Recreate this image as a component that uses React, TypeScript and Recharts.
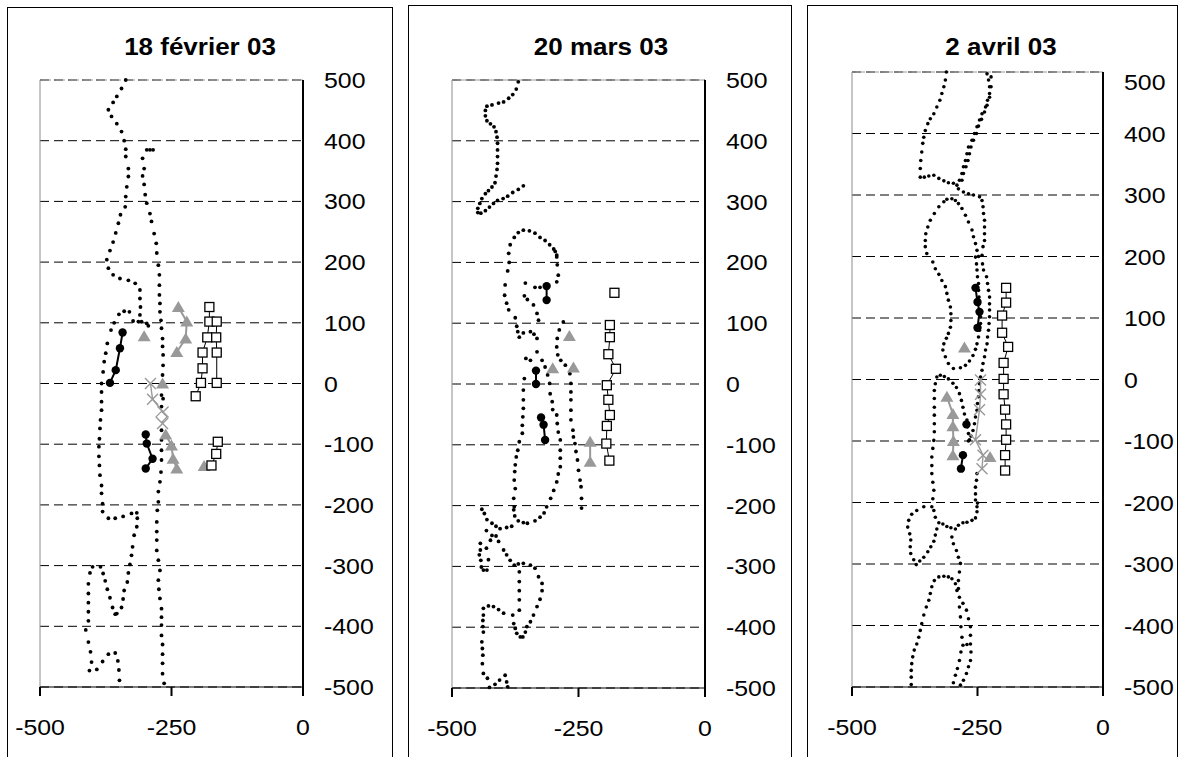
import React from 'react';
import { ScatterChart, Scatter, XAxis, YAxis, CartesianGrid, ReferenceLine } from 'recharts';

const FONT = '"Liberation Sans", Arial, Helvetica, sans-serif';

// axis ticks
const xTicks = [-500, -250, 0];
const yTicks = [-500, -400, -300, -200, -100, 0, 100, 200, 300, 400, 500];

// ---- 18 février 03 ----
const febTrack = [
  [-337, 500], [-345, 486], [-354, 473], [-361, 463], [-370, 451], [-364, 440], [-354, 428], [-345, 415], [-340, 400],
  [-337, 386], [-337, 374], [-332, 354], [-332, 341], [-335, 324], [-337, 308], [-338, 291], [-347, 278], [-351, 264],
  [-356, 248], [-361, 233], [-367, 219], [-373, 204], [-370, 190], [-361, 179], [-348, 173], [-332, 170], [-319, 165],
  [-310, 154], [-310, 140], [-309, 126], [-310, 113], [-307, 102], [-297, 99], [-294, 95], [-323, 103], [-313, 102],
  [-330, 118], [-340, 119], [-350, 114], [-359, 100], [-365, 88], [-372, 66], [-375, 50], [-378, 36], [-380, 19],
  [-383, 0], [-383, -14], [-383, -30], [-383, -44], [-385, -60], [-386, -74], [-387, -91], [-388, -104], [-388, -120],
  [-387, -135], [-386, -151], [-383, -168], [-383, -181], [-381, -198], [-381, -211], [-370, -222], [-357, -222],
  [-342, -219], [-326, -214], [-316, -213], [-315, -222], [-316, -236], [-321, -250], [-324, -269], [-326, -283],
  [-329, -298], [-332, -312], [-334, -327], [-340, -341], [-342, -355], [-345, -369], [-354, -379], [-357, -380],
  [-362, -369], [-367, -353], [-372, -339], [-376, -325], [-380, -313], [-385, -302], [-400, -302], [-405, -312],
  [-408, -330], [-408, -346], [-408, -361], [-408, -376], [-408, -391], [-413, -406], [-408, -426], [-404, -442],
  [-402, -459], [-406, -473], [-392, -471], [-381, -458], [-370, -446], [-357, -444], [-352, -457], [-350, -472],
  [-349, -489],
  [-297, 385], [-291, 385], [-285, 385], [-305, 371], [-302, 354], [-305, 342], [-302, 328], [-300, 311], [-297, 297],
  [-291, 280], [-288, 267], [-283, 247], [-279, 231], [-278, 215], [-275, 195], [-273, 179], [-273, 162], [-273, 146],
  [-272, 132], [-272, 118], [-270, 104], [-269, 91], [-267, 74], [-267, 61], [-266, 47], [-266, 30], [-267, 14],
  [-269, -19], [-266, -25], [-269, -38], [-269, -77], [-269, -93], [-269, -110], [-269, -126], [-270, -146],
  [-272, -162], [-275, -178], [-275, -195], [-277, -209], [-278, -228], [-278, -244], [-278, -258], [-278, -275],
  [-275, -291], [-272, -308], [-275, -324], [-274, -339], [-272, -354], [-269, -371], [-269, -385], [-269, -398],
  [-269, -415], [-267, -430], [-267, -446], [-267, -461], [-267, -478], [-264, -494],
];
const febCirclesA = [[-343, 84], [-348, 58], [-356, 22], [-367, 1]];
const febCirclesB = [[-299, -84], [-297, -99], [-286, -124], [-299, -140]];
const febTriA = [[-237, 126], [-221, 102], [-223, 74], [-240, 52]];
const febTriB = [[-261, -84], [-250, -102], [-247, -124], [-240, -140]];
const febTriSingle = [[-302, 78], [-267, 0], [-188, -136]];
const febCross = [[-290, 0], [-286, -26], [-266, -47], [-267, -66]];
const febDiamond = [[-269, -55]];
const febSqA = [[-178, 126], [-178, 102], [-182, 76], [-191, 51], [-191, 25], [-194, 1], [-204, -21]];
const febSqB = [[-164, 102], [-165, 76], [-164, 51], [-164, 1]];
const febSqC = [[-162, -96], [-165, -116], [-174, -135]];

// ---- 20 mars 03 ----
const marTrack = [
  [-369, 497], [-373, 485], [-380, 476], [-388, 470], [-398, 464], [-408, 462], [-421, 459], [-431, 457], [-434, 450],
  [-434, 441], [-431, 433], [-424, 428], [-417, 423], [-413, 415], [-411, 406], [-410, 396], [-410, 385], [-410, 374],
  [-410, 363], [-411, 353], [-413, 342], [-415, 331], [-421, 324], [-428, 318], [-434, 313], [-441, 305], [-445, 297],
  [-449, 289], [-449, 282], [-443, 281], [-434, 285], [-426, 291], [-418, 297], [-410, 302], [-399, 305], [-390, 309],
  [-380, 315], [-369, 320], [-359, 326],
  [-385, 229], [-377, 241], [-369, 249], [-359, 253], [-347, 252], [-336, 248], [-326, 241], [-316, 236], [-307, 229],
  [-299, 222], [-293, 212], [-388, 215], [-387, 200], [-390, 186], [-395, 163], [-396, 146], [-392, 133], [-388, 122],
  [-375, 109], [-372, 95], [-370, 86], [-367, 77], [-359, 84], [-345, 86], [-338, 82], [-332, 75], [-354, 42],
  [-345, 39], [-332, 53], [-357, 9], [-359, -10], [-359, -26], [-359, -40], [-360, -54], [-361, -68], [-361, -81],
  [-367, -95], [-370, -109], [-373, -120], [-375, -133], [-376, -144], [-377, -158], [-375, -172], [-378, -188],
  [-377, -202],
  [-355, 166], [-357, 145], [-351, 139], [-339, 130], [-332, 116], [-329, 105], [-336, 159], [-326, 159], [-296, 218],
  [-293, 209], [-292, 196], [-290, 179], [-293, 168],
  [-322, 39], [-316, 28], [-311, 15], [-307, 1], [-306, -16], [-302, -29], [-301, -42], [-293, -51], [-292, -65],
  [-290, -79], [-286, -92], [-286, -109], [-286, -122], [-286, -136], [-290, -148], [-293, -161], [-299, -175],
  [-305, -188], [-313, -202],
  [-280, 102], [-288, 89], [-292, 75], [-293, 61], [-291, 48], [-285, 39], [-276, 31], [-267, 17], [-265, 1],
  [-265, -13], [-265, -26], [-265, -43], [-265, -59], [-261, -76], [-260, -87], [-257, -98], [-255, -111], [-252, -125],
  [-250, -142], [-247, -158], [-245, -169], [-244, -188], [-244, -204],
  [-378, -207], [-376, -217], [-369, -225], [-359, -228], [-351, -229], [-336, -225], [-326, -219], [-318, -212],
  [-441, -206], [-436, -213], [-431, -223], [-421, -229], [-413, -234], [-405, -238], [-392, -236], [-382, -234],
  [-432, -241], [-421, -249], [-413, -250], [-408, -259], [-398, -273], [-392, -281], [-385, -290], [-377, -298],
  [-369, -296], [-359, -295], [-345, -298], [-336, -303], [-329, -317], [-322, -328], [-322, -340], [-326, -354],
  [-332, -366], [-339, -380], [-345, -391], [-352, -399], [-355, -408], [-360, -416], [-365, -416], [-372, -410],
  [-375, -402], [-378, -394], [-380, -380], [-367, -309], [-367, -325], [-367, -340], [-367, -355], [-367, -372],
  [-444, -262], [-444, -273], [-446, -281], [-443, -290], [-442, -301], [-438, -306], [-431, -306], [-428, -289],
  [-432, -270], [-424, -257],
  [-438, -369], [-428, -365], [-418, -366], [-408, -371], [-398, -377], [-438, -380], [-439, -389], [-439, -399],
  [-438, -408], [-441, -424], [-440, -435], [-439, -446], [-440, -460], [-438, -476], [-430, -484], [-426, -499],
  [-415, -494], [-406, -487], [-395, -479], [-392, -490], [-390, -498],
];
const marCirclesA = [[-313, 161], [-313, 138]];
const marCirclesB = [[-334, 22], [-334, 0]];
const marCirclesC = [[-324, -55], [-319, -67], [-316, -92]];
const marTriSingle = [[-268, 79], [-301, 26], [-260, 27]];
const marTriA = [[-227, -95], [-227, -128]];
const marSqSingle = [[-179, 150]];
const marSqA = [[-188, 97], [-188, 77], [-191, 49], [-176, 25], [-194, -2], [-191, -26], [-188, -51], [-194, -69], [-195, -98], [-189, -126]];

// ---- 2 avril 03 ----
const avrTrack = [
  [-312, 500], [-314, 487], [-317, 476], [-321, 465], [-325, 454], [-331, 443], [-337, 432], [-344, 424], [-349, 416],
  [-354, 405], [-357, 394], [-359, 384], [-361, 370], [-363, 356], [-364, 343], [-364, 329], [-356, 329], [-347, 331],
  [-337, 332], [-327, 327], [-317, 323], [-308, 320], [-298, 319], [-288, 310], [-278, 305], [-268, 302], [-258, 300],
  [-246, 297], [-241, 291], [-239, 281], [-238, 270], [-236, 259], [-236, 248], [-236, 237], [-236, 226], [-239, 216],
  [-241, 202],
  [-231, 497], [-228, 487], [-226, 476], [-226, 465], [-230, 454], [-234, 443], [-241, 432], [-246, 422], [-251, 411],
  [-256, 400], [-261, 389], [-268, 378], [-271, 367], [-274, 356], [-278, 346], [-281, 335], [-286, 324], [-291, 316],
  [-223, 492], [-223, 476], [-226, 459], [-231, 446], [-236, 435], [-242, 423], [-248, 412], [-252, 400], [-258, 389],
  [-263, 378], [-266, 367], [-269, 356], [-273, 346], [-278, 335], [-281, 324],
  [-301, 294], [-311, 293], [-317, 289], [-327, 281], [-336, 270], [-344, 259], [-349, 248], [-353, 237], [-354, 226],
  [-354, 216], [-351, 205], [-294, 291], [-288, 286], [-281, 278], [-274, 267], [-268, 256], [-261, 243], [-258, 232],
  [-254, 221], [-251, 210], [-248, 200],
  [-339, 191], [-334, 180], [-327, 171], [-321, 161], [-314, 151], [-311, 140], [-308, 129], [-304, 118], [-303, 107],
  [-303, 96], [-304, 85], [-308, 75], [-312, 67], [-317, 58], [-319, 48], [-314, 37], [-308, 26], [-298, 18], [-284, 19],
  [-274, 23], [-266, 30], [-259, 39], [-254, 49], [-251, 58], [-248, 69], [-246, 80], [-244, 91], [-244, 102],
  [-246, 113], [-246, 123], [-247, 134], [-248, 145], [-248, 156], [-250, 167], [-251, 178], [-252, 188], [-254, 199],
  [-240, 188], [-238, 178], [-232, 167], [-230, 156], [-228, 145], [-226, 134], [-226, 123], [-226, 113], [-226, 102],
  [-227, 91], [-228, 80], [-230, 69], [-231, 58], [-234, 48], [-236, 37], [-239, 26], [-241, 15], [-244, 4], [-246, -7],
  [-247, -18], [-248, -28], [-250, -39], [-251, -50], [-254, -61], [-256, -72], [-259, -83], [-263, -92], [-268, -100],
  [-324, 7], [-331, 4], [-334, -7], [-336, -18], [-336, -31], [-336, -45], [-336, -58], [-336, -72], [-336, -85],
  [-337, -99], [-339, -112], [-341, -126], [-341, -140], [-341, -153], [-339, -167], [-337, -180], [-339, -194],
  [-341, -207], [-316, 5], [-308, 1], [-299, -6], [-292, -13], [-286, -23], [-282, -34], [-279, -45], [-276, -56],
  [-271, -66], [-270, -77], [-268, -88], [-266, -98],
  [-251, -153], [-252, -164], [-254, -175], [-254, -186], [-254, -196], [-251, -207],
  [-357, -207], [-371, -213], [-381, -219], [-387, -229], [-389, -240], [-385, -251], [-383, -261], [-384, -272],
  [-383, -283], [-377, -293], [-372, -301], [-365, -295], [-357, -289], [-349, -280], [-343, -272], [-337, -263],
  [-334, -253], [-331, -243], [-327, -233], [-334, -224], [-337, -213],
  [-319, -235], [-311, -239], [-303, -241], [-294, -243], [-288, -237], [-279, -233], [-271, -232], [-261, -229],
  [-254, -225], [-251, -215], [-250, -201],
  [-301, -256], [-298, -267], [-292, -278], [-288, -289], [-284, -299], [-286, -313], [-288, -327],
  [-317, -320], [-327, -321], [-336, -327], [-341, -337], [-344, -348], [-347, -359], [-352, -370], [-357, -383],
  [-361, -397], [-364, -408], [-367, -419], [-371, -430], [-376, -440], [-379, -451], [-381, -462], [-382, -473],
  [-382, -484], [-382, -496],
  [-308, -321], [-301, -324], [-294, -332], [-291, -343], [-286, -354], [-279, -364], [-272, -375], [-268, -389],
  [-264, -402], [-264, -416], [-264, -430], [-263, -443], [-264, -457], [-268, -467], [-272, -478], [-278, -489],
  [-284, -497],
  [-288, -340], [-286, -370], [-284, -386], [-283, -402], [-281, -419], [-279, -432], [-271, -431], [-283, -443],
  [-286, -457], [-290, -470], [-294, -481], [-298, -493],
];
const avrCirclesA = [[-254, 149], [-250, 126], [-246, 110], [-250, 84]];
const avrCircleSingle = [[-272, -73]];
const avrCirclesB = [[-279, -123], [-283, -145]];
const avrTriSingle = [[-276, 52], [-225, -126]];
const avrTriA = [[-311, -28], [-299, -56], [-299, -76], [-298, -100], [-299, -123]];
const avrCross = [[-244, -1], [-244, -24], [-246, -49], [-254, -98], [-239, -123], [-241, -145]];
const avrSqA = [[-193, 149], [-193, 125], [-201, 104], [-201, 76], [-189, 53], [-198, 27], [-198, 1], [-198, -24], [-195, -49], [-193, -73], [-193, -98], [-195, -123], [-195, -148]];

const pts = (a: number[][]) => a.map(([x, y]) => ({ x, y }));

// marker shapes
const dotShape = (r: number) => (p: any) => <circle cx={p.cx} cy={p.cy} r={r} fill="#000" />;
const circleShape = (p: any) => <circle cx={p.cx} cy={p.cy} r={4.2} fill="#000" />;
const triShape = (p: any) => (
  <path d={`M${p.cx},${p.cy - 6}L${p.cx + 6.5},${p.cy + 5}L${p.cx - 6.5},${p.cy + 5}Z`} fill="#999999" />
);
const squareShape = (p: any) => (
  <rect x={p.cx - 4.5} y={p.cy - 4.5} width={9} height={9} fill="#fff" stroke="#000" strokeWidth={1.3} />
);
const crossShape = (p: any) => (
  <g stroke="#999999" strokeWidth={1.4}>
    <line x1={p.cx - 5.5} y1={p.cy - 5.5} x2={p.cx + 5.5} y2={p.cy + 5.5} />
    <line x1={p.cx - 5.5} y1={p.cy + 5.5} x2={p.cx + 5.5} y2={p.cy - 5.5} />
  </g>
);
const diamondShape = (p: any) => (
  <path d={`M${p.cx},${p.cy - 5.5}L${p.cx + 5.5},${p.cy}L${p.cx},${p.cy + 5.5}L${p.cx - 5.5},${p.cy}Z`} fill="#fff" stroke="#999999" strokeWidth={1.3} />
);

// axis tick renderers (text is slightly stretched horizontally, like the original export)
const XTick = (p: any) => (
  <g>
    <rect x={p.x - 1} y={p.y} width={2} height={9} fill="#000" />
    <text
      transform={`translate(${p.x},${p.y + 48}) scale(1.13,1)`}
      textAnchor="middle" fontSize={22} fontFamily={FONT} fill="#000"
    >{p.payload.value}</text>
  </g>
);
const YTick = (p: any) => (
  <text
    transform={`translate(${p.x + 21},${p.y + 8 + (p.shiftTop && p.payload.value === 500 ? 10 : 0)}) scale(1.13,1)`}
    textAnchor="start" fontSize={22} fontFamily={FONT} fill="#000"
  >{p.payload.value}</text>
);

type Series = { data: number[][]; shape: any; line?: any };

const blackLine = { stroke: '#000', strokeWidth: 2 };
const grayLine = { stroke: '#999999', strokeWidth: 2 };
const thinLine = { stroke: '#000', strokeWidth: 1 };

function Panel({
  title, titleX, boxL, boxR, boxT, plot, dotR, track, series, shiftTop = false,
}: {
  title: string; titleX: number; boxL: number; boxR: number; boxT: number;
  plot: { L: number; R: number; T: number; B: number };
  dotR: number; track: number[][]; series: Series[]; shiftTop?: boolean;
}) {
  const ML = 35, MT = 20, MR = 10, YW = 70, XH = 75;
  const w = plot.R - plot.L + ML + MR + YW;
  const h = plot.B - plot.T + MT + XH;
  return (
    <>
      <div style={{
        position: 'absolute', left: boxL, top: boxT, width: boxR - boxL, height: 800,
        border: '1px solid #000', boxSizing: 'border-box',
      }} />
      <div style={{
        position: 'absolute', left: titleX - 150, top: 34, width: 300, textAlign: 'center',
        fontFamily: FONT, fontWeight: 'bold', fontSize: 23, lineHeight: '26px',
        transform: 'scaleX(1.13)', transformOrigin: 'center',
      }}>{title}</div>
      <div style={{ position: 'absolute', left: plot.L - ML, top: plot.T - MT }}>
        <ScatterChart width={w} height={h} margin={{ top: MT, left: ML, right: MR, bottom: 0 }}>
          <CartesianGrid vertical={false} stroke="#000" strokeDasharray="9 5" />
          <XAxis
            type="number" dataKey="x" domain={[-500, 0]} ticks={xTicks} interval={0}
            height={XH} axisLine={false} tickLine={false} tickSize={0} tickMargin={0} tick={<XTick />}
          />
          <YAxis
            type="number" dataKey="y" orientation="right" domain={[-500, 500]} ticks={yTicks} interval={0}
            width={YW} axisLine={false} tickLine={false} tickSize={0} tickMargin={0}
            tick={<YTick shiftTop={shiftTop} />}
          />
          <ReferenceLine x={-500} stroke="#8c8c8c" ifOverflow="visible" />
          <ReferenceLine y={500} stroke="#9a9a9a" strokeDasharray="9 5" ifOverflow="visible" />
          <ReferenceLine y={-500} stroke="#000" strokeWidth={1.2} ifOverflow="visible" />
          <Scatter data={pts(track)} shape={dotShape(dotR)} isAnimationActive={false} />
          {series.map((s, i) => (
            <Scatter
              key={i}
              data={pts(s.data)}
              shape={s.shape}
              line={s.line ? s.line : false}
              lineType="joint"
              isAnimationActive={false}
            />
          ))}
        </ScatterChart>
      </div>
      {/* right-hand value axis line */}
      <div style={{
        position: 'absolute', left: plot.R - 1, top: plot.T, width: 0, height: plot.B - plot.T,
        borderLeft: '2px solid #000',
      }} />
    </>
  );
}

export default function App() {
  return (
    <div style={{
      position: 'absolute', left: 0, top: 0, width: 1184, height: 757, overflow: 'hidden',
      background: '#fff', fontFamily: FONT,
    }}>
      <Panel
        title="18 février 03" titleX={200} boxL={7} boxR={393} boxT={7}
        plot={{ L: 40, R: 303, T: 80, B: 687 }} dotR={1.9} track={febTrack}
        series={[
          { data: febCirclesA, shape: circleShape, line: blackLine },
          { data: febCirclesB, shape: circleShape, line: blackLine },
          { data: febTriA, shape: triShape, line: grayLine },
          { data: febTriB, shape: triShape, line: grayLine },
          { data: febTriSingle, shape: triShape },
          { data: febCross, shape: crossShape, line: { stroke: '#999999', strokeWidth: 1.4 } },
          { data: febDiamond, shape: diamondShape },
          { data: febSqA, shape: squareShape, line: thinLine },
          { data: febSqB, shape: squareShape, line: thinLine },
          { data: febSqC, shape: squareShape, line: thinLine },
        ]}
      />
      <Panel
        title="20 mars 03" titleX={601} boxL={408} boxR={792} boxT={5}
        plot={{ L: 452, R: 705, T: 80, B: 688 }} dotR={1.9} track={marTrack}
        series={[
          { data: marCirclesA, shape: circleShape, line: blackLine },
          { data: marCirclesB, shape: circleShape, line: blackLine },
          { data: marCirclesC, shape: circleShape, line: blackLine },
          { data: marTriSingle, shape: triShape },
          { data: marTriA, shape: triShape, line: grayLine },
          { data: marSqSingle, shape: squareShape },
          { data: marSqA, shape: squareShape, line: thinLine },
        ]}
      />
      <Panel
        title="2 avril 03" titleX={1001} boxL={807} boxR={1178} boxT={5}
        plot={{ L: 852, R: 1103, T: 72, B: 687 }} dotR={1.8} track={avrTrack} shiftTop
        series={[
          { data: avrCirclesA, shape: circleShape, line: blackLine },
          { data: avrCircleSingle, shape: circleShape },
          { data: avrCirclesB, shape: circleShape, line: blackLine },
          { data: avrTriSingle, shape: triShape },
          { data: avrTriA, shape: triShape, line: grayLine },
          { data: avrCross, shape: crossShape, line: { stroke: '#999999', strokeWidth: 1.4 } },
          { data: avrSqA, shape: squareShape, line: thinLine },
        ]}
      />
    </div>
  );
}
